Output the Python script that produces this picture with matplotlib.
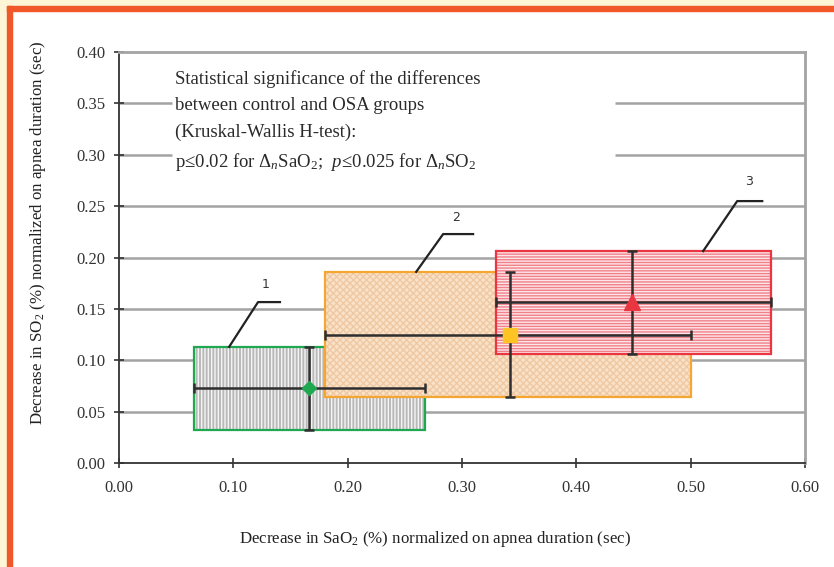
import numpy as np
import matplotlib
matplotlib.use("Agg")
import matplotlib.pyplot as plt
from matplotlib.patches import Rectangle

plt.rcParams['font.family'] = ['Liberation Serif', 'DejaVu Serif']
plt.rcParams['mathtext.fontset'] = 'custom'
plt.rcParams['mathtext.rm'] = 'Liberation Serif'
plt.rcParams['mathtext.it'] = 'Liberation Serif:italic'
plt.rcParams['hatch.linewidth'] = 1.0

# group data: box limits (x0, x1, y0, y1), median point
groups = ["1", "2", "3"]
box_x0 = [0.066, 0.180, 0.330]
box_x1 = [0.268, 0.500, 0.570]
box_y0 = [0.032, 0.064, 0.106]
box_y1 = [0.113, 0.186, 0.206]
med_x = [0.166, 0.342, 0.449]
med_y = [0.073, 0.125, 0.157]

edge_cols = ["#1fa84f", "#f5a631", "#ea3640"]
face_cols = ["#b9b9b9", "#f9e2c8", "#fde6e8"]
hatch_cols = ["#f4f4f4", "#efc9a3", "#f0808a"]
hatches = ["|||||", "xxxxx", "------"]
markers = ["D", "s", "^"]
marker_cols = ["#1fa84f", "#fdc424", "#ea3640"]
marker_sizes = [7, 10, 11]

# leader lines for labels (start, knee, end) and label positions
lead_x = [[0.0963, 0.1216, 0.1408], [0.2599, 0.2835, 0.3097], [0.5109, 0.5407, 0.5626]]
lead_y = [[0.113, 0.1566, 0.1566], [0.186, 0.2228, 0.2228], [0.2062, 0.2549, 0.2549]]
lab_x = [0.128, 0.295, 0.551]
lab_y = [0.167, 0.233, 0.268]

xticks = [0.0, 0.1, 0.2, 0.3, 0.4, 0.5, 0.6]
yticks = [0.0, 0.05, 0.10, 0.15, 0.20, 0.25, 0.30, 0.35, 0.40]

fig = plt.figure(figsize=(8.34, 5.67), dpi=100)
fig.patch.set_facecolor("white")
W, H = 834, 567
# page frame: pale strip and orange border
fig.patches.append(Rectangle((0, 0), 7 / W, 1, transform=fig.transFigure, color="#fdf6d6", zorder=0))
fig.patches.append(Rectangle((0, 1 - 6 / H), 1, 6 / H, transform=fig.transFigure, color="#fdf6d6", zorder=0))
fig.patches.append(Rectangle((7 / W, 0), 5 / W, 1 - 6 / H, transform=fig.transFigure, color="#f0582a", zorder=1))
fig.patches.append(Rectangle((7 / W, 1 - 11 / H), 1 - 7 / W, 5 / H, transform=fig.transFigure, color="#f0582a", zorder=1))

ax = fig.add_axes([119 / W, 1 - 463 / H, (805 - 119) / W, (463 - 52) / H])
ax.set_xlim(0, 0.6)
ax.set_ylim(0, 0.4)

# gridlines (0.30 and 0.35 broken by the text)
grid_col = "#a3a3a3"
for yv in yticks[1:-1]:
    if yv >= 0.3:
        ax.hlines(yv, 0, 0.046, color=grid_col, lw=1.8, zorder=1)
        ax.hlines(yv, 0.434, 0.6, color=grid_col, lw=1.8, zorder=1)
    else:
        ax.hlines(yv, 0, 0.6, color=grid_col, lw=1.8, zorder=1)

for i in range(3):
    w = box_x1[i] - box_x0[i]
    h = box_y1[i] - box_y0[i]
    ax.add_patch(Rectangle((box_x0[i], box_y0[i]), w, h, facecolor=face_cols[i],
                           edgecolor=hatch_cols[i], hatch=hatches[i], lw=0, zorder=2 + i))
    ax.add_patch(Rectangle((box_x0[i], box_y0[i]), w, h, facecolor="none",
                           edgecolor=edge_cols[i], lw=1.6, zorder=2 + i))

for i in range(3):
    ax.errorbar(med_x[i], med_y[i],
                xerr=[[med_x[i] - box_x0[i]], [box_x1[i] - med_x[i]]],
                yerr=[[med_y[i] - box_y0[i]], [box_y1[i] - med_y[i]]],
                fmt="none", ecolor="#2e2e2e", elinewidth=1.8, capsize=3.5, capthick=1.8, zorder=6)
for i in range(3):
    ax.plot(med_x[i], med_y[i], marker=markers[i], color=marker_cols[i], ms=marker_sizes[i],
            ls="none", zorder=7)

for i in range(3):
    ax.plot(lead_x[i], lead_y[i], color="#222222", lw=1.6, zorder=8, clip_on=False)
    ax.text(lab_x[i], lab_y[i], groups[i], fontsize=9, family="DejaVu Sans", color="#333333",
            ha="center", va="bottom", zorder=8)

txt = ("Statistical significance of the differences\n"
       "between control and OSA groups\n"
       "(Kruskal-Wallis H-test):\n"
       "p\u22640.02 for $\\Delta_{n}$SaO$_{2}$;  $p$\u22640.025 for $\\Delta_{n}$SO$_{2}$")
ax.text(0.049, 0.382, txt, fontsize=13.5, color="#2a2a2a", va="top", ha="left",
        linespacing=1.68, zorder=8)

for s in ["top", "right"]:
    ax.spines[s].set_color(grid_col)
    ax.spines[s].set_linewidth(2.0)
for s in ["left", "bottom"]:
    ax.spines[s].set_color("#333333")
    ax.spines[s].set_linewidth(1.3)

ax.set_xticks(xticks)
ax.set_yticks(yticks)
ax.set_xticklabels([f"{v:.2f}" for v in xticks])
ax.set_yticklabels([f"{v:.2f}" for v in yticks])
ax.tick_params(direction="inout", length=7, width=1.2, color="#333333",
               labelsize=12, labelcolor="#333333")
ax.tick_params(axis="x", pad=9)
ax.tick_params(axis="y", pad=6)

ax.set_xlabel("Decrease in SaO$_2$ (%) normalized on apnea duration (sec)", fontsize=12.2,
              color="#222222")
ax.set_ylabel("Decrease in SO$_2$ (%) normalized on apnea duration (sec)", fontsize=12.2,
              color="#222222")
ax.xaxis.set_label_coords(0.46, -0.16)
ax.yaxis.set_label_coords(-0.104, 0.56)

fig.savefig("out.png", dpi=100)
